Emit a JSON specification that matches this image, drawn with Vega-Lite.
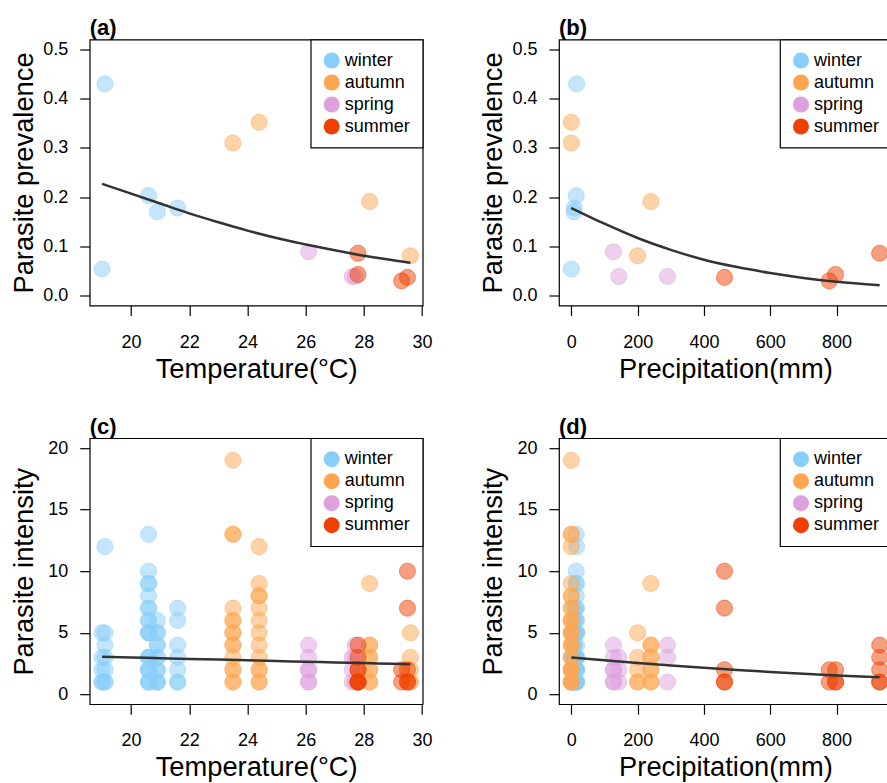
{
  "$schema": "https://vega.github.io/schema/vega-lite/v6.json",
  "background": "white",
  "padding": {"left": 8.7, "top": 15.5, "right": -5, "bottom": 2},
  "bounds": "flush",
  "columns": 2,
  "spacing": {"row": 132.7, "column": 136.3},
  "datasets": {
    "prev": [
      {"season": "winter", "temp": 19.1, "precip": 16, "prev": 0.43},
      {"season": "winter", "temp": 19.0, "precip": 0, "prev": 0.054},
      {"season": "winter", "temp": 20.6, "precip": 15, "prev": 0.203},
      {"season": "winter", "temp": 20.9, "precip": 8, "prev": 0.170},
      {"season": "winter", "temp": 21.6, "precip": 9, "prev": 0.178},
      {"season": "autumn", "temp": 23.5, "precip": 0, "prev": 0.310},
      {"season": "autumn", "temp": 24.4, "precip": 0, "prev": 0.352},
      {"season": "autumn", "temp": 28.2, "precip": 240, "prev": 0.191},
      {"season": "autumn", "temp": 29.6, "precip": 200, "prev": 0.081},
      {"season": "spring", "temp": 26.1, "precip": 127, "prev": 0.089},
      {"season": "spring", "temp": 27.6, "precip": 143, "prev": 0.039},
      {"season": "spring", "temp": 27.7, "precip": 290, "prev": 0.039},
      {"season": "summer", "temp": 27.8, "precip": 930, "prev": 0.086},
      {"season": "summer", "temp": 27.8, "precip": 797, "prev": 0.043},
      {"season": "summer", "temp": 29.3, "precip": 778, "prev": 0.030},
      {"season": "summer", "temp": 29.5, "precip": 462, "prev": 0.037}
    ],
    "intensity": [
      {"season": "winter", "temp": 19.1, "precip": 16, "intensity": 12},
      {"season": "winter", "temp": 19.1, "precip": 16, "intensity": 5},
      {"season": "winter", "temp": 19.1, "precip": 16, "intensity": 4},
      {"season": "winter", "temp": 19.1, "precip": 16, "intensity": 3},
      {"season": "winter", "temp": 19.1, "precip": 16, "intensity": 2},
      {"season": "winter", "temp": 19.1, "precip": 16, "intensity": 1},
      {"season": "winter", "temp": 19.1, "precip": 16, "intensity": 1},
      {"season": "winter", "temp": 19.0, "precip": 0, "intensity": 5},
      {"season": "winter", "temp": 19.0, "precip": 0, "intensity": 3},
      {"season": "winter", "temp": 19.0, "precip": 0, "intensity": 2},
      {"season": "winter", "temp": 19.0, "precip": 0, "intensity": 1},
      {"season": "winter", "temp": 19.0, "precip": 0, "intensity": 1},
      {"season": "winter", "temp": 20.6, "precip": 15, "intensity": 13},
      {"season": "winter", "temp": 20.6, "precip": 15, "intensity": 10},
      {"season": "winter", "temp": 20.6, "precip": 15, "intensity": 9},
      {"season": "winter", "temp": 20.6, "precip": 15, "intensity": 9},
      {"season": "winter", "temp": 20.6, "precip": 15, "intensity": 8},
      {"season": "winter", "temp": 20.6, "precip": 15, "intensity": 7},
      {"season": "winter", "temp": 20.6, "precip": 15, "intensity": 7},
      {"season": "winter", "temp": 20.6, "precip": 15, "intensity": 6},
      {"season": "winter", "temp": 20.6, "precip": 15, "intensity": 6},
      {"season": "winter", "temp": 20.6, "precip": 15, "intensity": 5},
      {"season": "winter", "temp": 20.6, "precip": 15, "intensity": 5},
      {"season": "winter", "temp": 20.6, "precip": 15, "intensity": 5},
      {"season": "winter", "temp": 20.6, "precip": 15, "intensity": 3},
      {"season": "winter", "temp": 20.6, "precip": 15, "intensity": 3},
      {"season": "winter", "temp": 20.6, "precip": 15, "intensity": 3},
      {"season": "winter", "temp": 20.6, "precip": 15, "intensity": 2},
      {"season": "winter", "temp": 20.6, "precip": 15, "intensity": 2},
      {"season": "winter", "temp": 20.6, "precip": 15, "intensity": 2},
      {"season": "winter", "temp": 20.6, "precip": 15, "intensity": 1},
      {"season": "winter", "temp": 20.6, "precip": 15, "intensity": 1},
      {"season": "winter", "temp": 20.6, "precip": 15, "intensity": 1},
      {"season": "winter", "temp": 20.9, "precip": 8, "intensity": 6},
      {"season": "winter", "temp": 20.9, "precip": 8, "intensity": 5},
      {"season": "winter", "temp": 20.9, "precip": 8, "intensity": 5},
      {"season": "winter", "temp": 20.9, "precip": 8, "intensity": 4},
      {"season": "winter", "temp": 20.9, "precip": 8, "intensity": 4},
      {"season": "winter", "temp": 20.9, "precip": 8, "intensity": 3},
      {"season": "winter", "temp": 20.9, "precip": 8, "intensity": 3},
      {"season": "winter", "temp": 20.9, "precip": 8, "intensity": 2},
      {"season": "winter", "temp": 20.9, "precip": 8, "intensity": 2},
      {"season": "winter", "temp": 20.9, "precip": 8, "intensity": 1},
      {"season": "winter", "temp": 20.9, "precip": 8, "intensity": 1},
      {"season": "winter", "temp": 20.9, "precip": 8, "intensity": 1},
      {"season": "winter", "temp": 21.6, "precip": 9, "intensity": 7},
      {"season": "winter", "temp": 21.6, "precip": 9, "intensity": 6},
      {"season": "winter", "temp": 21.6, "precip": 9, "intensity": 4},
      {"season": "winter", "temp": 21.6, "precip": 9, "intensity": 3},
      {"season": "winter", "temp": 21.6, "precip": 9, "intensity": 2},
      {"season": "winter", "temp": 21.6, "precip": 9, "intensity": 1},
      {"season": "winter", "temp": 21.6, "precip": 9, "intensity": 1},
      {"season": "autumn", "temp": 23.5, "precip": 0, "intensity": 19},
      {"season": "autumn", "temp": 23.5, "precip": 0, "intensity": 13},
      {"season": "autumn", "temp": 23.5, "precip": 0, "intensity": 13},
      {"season": "autumn", "temp": 23.5, "precip": 0, "intensity": 7},
      {"season": "autumn", "temp": 23.5, "precip": 0, "intensity": 6},
      {"season": "autumn", "temp": 23.5, "precip": 0, "intensity": 6},
      {"season": "autumn", "temp": 23.5, "precip": 0, "intensity": 5},
      {"season": "autumn", "temp": 23.5, "precip": 0, "intensity": 5},
      {"season": "autumn", "temp": 23.5, "precip": 0, "intensity": 4},
      {"season": "autumn", "temp": 23.5, "precip": 0, "intensity": 4},
      {"season": "autumn", "temp": 23.5, "precip": 0, "intensity": 3},
      {"season": "autumn", "temp": 23.5, "precip": 0, "intensity": 2},
      {"season": "autumn", "temp": 23.5, "precip": 0, "intensity": 2},
      {"season": "autumn", "temp": 23.5, "precip": 0, "intensity": 1},
      {"season": "autumn", "temp": 23.5, "precip": 0, "intensity": 1},
      {"season": "autumn", "temp": 24.4, "precip": 0, "intensity": 12},
      {"season": "autumn", "temp": 24.4, "precip": 0, "intensity": 9},
      {"season": "autumn", "temp": 24.4, "precip": 0, "intensity": 8},
      {"season": "autumn", "temp": 24.4, "precip": 0, "intensity": 8},
      {"season": "autumn", "temp": 24.4, "precip": 0, "intensity": 7},
      {"season": "autumn", "temp": 24.4, "precip": 0, "intensity": 6},
      {"season": "autumn", "temp": 24.4, "precip": 0, "intensity": 5},
      {"season": "autumn", "temp": 24.4, "precip": 0, "intensity": 4},
      {"season": "autumn", "temp": 24.4, "precip": 0, "intensity": 3},
      {"season": "autumn", "temp": 24.4, "precip": 0, "intensity": 2},
      {"season": "autumn", "temp": 24.4, "precip": 0, "intensity": 2},
      {"season": "autumn", "temp": 24.4, "precip": 0, "intensity": 1},
      {"season": "autumn", "temp": 24.4, "precip": 0, "intensity": 1},
      {"season": "autumn", "temp": 28.2, "precip": 240, "intensity": 9},
      {"season": "autumn", "temp": 28.2, "precip": 240, "intensity": 4},
      {"season": "autumn", "temp": 28.2, "precip": 240, "intensity": 4},
      {"season": "autumn", "temp": 28.2, "precip": 240, "intensity": 3},
      {"season": "autumn", "temp": 28.2, "precip": 240, "intensity": 3},
      {"season": "autumn", "temp": 28.2, "precip": 240, "intensity": 2},
      {"season": "autumn", "temp": 28.2, "precip": 240, "intensity": 2},
      {"season": "autumn", "temp": 28.2, "precip": 240, "intensity": 1},
      {"season": "autumn", "temp": 28.2, "precip": 240, "intensity": 1},
      {"season": "autumn", "temp": 29.6, "precip": 200, "intensity": 5},
      {"season": "autumn", "temp": 29.6, "precip": 200, "intensity": 3},
      {"season": "autumn", "temp": 29.6, "precip": 200, "intensity": 2},
      {"season": "autumn", "temp": 29.6, "precip": 200, "intensity": 1},
      {"season": "autumn", "temp": 29.6, "precip": 200, "intensity": 1},
      {"season": "spring", "temp": 26.1, "precip": 127, "intensity": 4},
      {"season": "spring", "temp": 26.1, "precip": 127, "intensity": 3},
      {"season": "spring", "temp": 26.1, "precip": 127, "intensity": 2},
      {"season": "spring", "temp": 26.1, "precip": 127, "intensity": 2},
      {"season": "spring", "temp": 26.1, "precip": 127, "intensity": 1},
      {"season": "spring", "temp": 26.1, "precip": 127, "intensity": 1},
      {"season": "spring", "temp": 27.6, "precip": 143, "intensity": 3},
      {"season": "spring", "temp": 27.6, "precip": 143, "intensity": 2},
      {"season": "spring", "temp": 27.6, "precip": 143, "intensity": 1},
      {"season": "spring", "temp": 27.7, "precip": 290, "intensity": 4},
      {"season": "spring", "temp": 27.7, "precip": 290, "intensity": 3},
      {"season": "spring", "temp": 27.7, "precip": 290, "intensity": 1},
      {"season": "summer", "temp": 27.8, "precip": 930, "intensity": 4},
      {"season": "summer", "temp": 27.8, "precip": 930, "intensity": 3},
      {"season": "summer", "temp": 27.8, "precip": 930, "intensity": 2},
      {"season": "summer", "temp": 27.8, "precip": 930, "intensity": 1},
      {"season": "summer", "temp": 27.8, "precip": 930, "intensity": 1},
      {"season": "summer", "temp": 27.8, "precip": 797, "intensity": 2},
      {"season": "summer", "temp": 27.8, "precip": 797, "intensity": 1},
      {"season": "summer", "temp": 27.8, "precip": 797, "intensity": 1},
      {"season": "summer", "temp": 29.3, "precip": 778, "intensity": 2},
      {"season": "summer", "temp": 29.3, "precip": 778, "intensity": 1},
      {"season": "summer", "temp": 29.5, "precip": 462, "intensity": 10},
      {"season": "summer", "temp": 29.5, "precip": 462, "intensity": 7},
      {"season": "summer", "temp": 29.5, "precip": 462, "intensity": 2},
      {"season": "summer", "temp": 29.5, "precip": 462, "intensity": 1},
      {"season": "summer", "temp": 29.5, "precip": 462, "intensity": 1}
    ],
    "fitTemp": [
      {"temp": 19.0, "prev": 0.227, "intensity": 3.05},
      {"temp": 20.0, "prev": 0.207, "intensity": 2.99},
      {"temp": 21.0, "prev": 0.187, "intensity": 2.94},
      {"temp": 22.0, "prev": 0.167, "intensity": 2.88},
      {"temp": 23.0, "prev": 0.149, "intensity": 2.82},
      {"temp": 24.0, "prev": 0.132, "intensity": 2.76},
      {"temp": 25.0, "prev": 0.117, "intensity": 2.70},
      {"temp": 26.0, "prev": 0.104, "intensity": 2.65},
      {"temp": 27.0, "prev": 0.092, "intensity": 2.59},
      {"temp": 28.0, "prev": 0.081, "intensity": 2.54},
      {"temp": 29.0, "prev": 0.072, "intensity": 2.48},
      {"temp": 29.6, "prev": 0.067, "intensity": 2.45}
    ],
    "fitPrecip": [
      {"precip": 0, "prev": 0.178, "intensity": 3.0},
      {"precip": 100, "prev": 0.146, "intensity": 2.76},
      {"precip": 200, "prev": 0.117, "intensity": 2.54},
      {"precip": 300, "prev": 0.093, "intensity": 2.34},
      {"precip": 400, "prev": 0.073, "intensity": 2.15},
      {"precip": 500, "prev": 0.058, "intensity": 1.98},
      {"precip": 600, "prev": 0.046, "intensity": 1.82},
      {"precip": 700, "prev": 0.036, "intensity": 1.67},
      {"precip": 800, "prev": 0.028, "intensity": 1.53},
      {"precip": 930, "prev": 0.021, "intensity": 1.38}
    ]
  },
  "concat": [
    {
      "width": 333, "height": 266,
      "title": {"text": "(a)"},
      "layer": [
        {
          "data": {"name": "prev"},
          "mark": {"type": "circle", "size": 260, "fillOpacity": 0.5, "strokeOpacity": 0.5, "strokeWidth": 1},
          "encoding": {
            "x": {"field": "temp", "type": "quantitative", "title": "Temperature(°C)", "scale": {"domain": [18.576, 30.024], "nice": false, "zero": false}, "axis": {"values": [20, 22, 24, 26, 28, 30]}},
            "y": {"field": "prev", "type": "quantitative", "title": "Parasite prevalence", "scale": {"domain": [-0.02, 0.52], "nice": false, "zero": false}, "axis": {"values": [0, 0.1, 0.2, 0.3, 0.4, 0.5], "format": ".1f"}},
            "color": {"field": "season", "type": "nominal", "scale": {"domain": ["winter", "autumn", "spring", "summer"], "range": ["#87CEFA", "#FFA54F", "#DDA0DD", "#EE4000"]}, "legend": {"title": null, "orient": "top-right", "offset": 0}},
            "stroke": {"field": "season", "type": "nominal", "scale": {"domain": ["winter", "autumn", "spring", "summer"], "range": ["#87CEFA", "#FFA54F", "#DDA0DD", "#EE4000"]}, "legend": null}
          }
        },
        {
          "data": {"name": "fitTemp"},
          "mark": {"type": "line", "color": "#333333", "strokeWidth": 2.5, "interpolate": "monotone"},
          "encoding": {
            "x": {"field": "temp", "type": "quantitative", "title": "Temperature(°C)"},
            "y": {"field": "prev", "type": "quantitative", "title": "Parasite prevalence"}
          }
        }
      ]
    },
    {
      "width": 333, "height": 266,
      "title": {"text": "(b)"},
      "layer": [
        {
          "data": {"name": "prev"},
          "mark": {"type": "circle", "size": 260, "fillOpacity": 0.5, "strokeOpacity": 0.5, "strokeWidth": 1},
          "encoding": {
            "x": {"field": "precip", "type": "quantitative", "title": "Precipitation(mm)", "scale": {"domain": [-37.2, 967.2], "nice": false, "zero": false}, "axis": {"values": [0, 200, 400, 600, 800]}},
            "y": {"field": "prev", "type": "quantitative", "title": "Parasite prevalence", "scale": {"domain": [-0.02, 0.52], "nice": false, "zero": false}, "axis": {"values": [0, 0.1, 0.2, 0.3, 0.4, 0.5], "format": ".1f"}},
            "color": {"field": "season", "type": "nominal", "scale": {"domain": ["winter", "autumn", "spring", "summer"], "range": ["#87CEFA", "#FFA54F", "#DDA0DD", "#EE4000"]}, "legend": {"title": null, "orient": "top-right", "offset": 0}},
            "stroke": {"field": "season", "type": "nominal", "scale": {"domain": ["winter", "autumn", "spring", "summer"], "range": ["#87CEFA", "#FFA54F", "#DDA0DD", "#EE4000"]}, "legend": null}
          }
        },
        {
          "data": {"name": "fitPrecip"},
          "mark": {"type": "line", "color": "#333333", "strokeWidth": 2.5, "interpolate": "monotone"},
          "encoding": {
            "x": {"field": "precip", "type": "quantitative", "title": "Precipitation(mm)"},
            "y": {"field": "prev", "type": "quantitative", "title": "Parasite prevalence"}
          }
        }
      ]
    },
    {
      "width": 333, "height": 266,
      "title": {"text": "(c)"},
      "layer": [
        {
          "data": {"name": "intensity"},
          "mark": {"type": "circle", "size": 260, "fillOpacity": 0.5, "strokeOpacity": 0.5, "strokeWidth": 1},
          "encoding": {
            "x": {"field": "temp", "type": "quantitative", "title": "Temperature(°C)", "scale": {"domain": [18.576, 30.024], "nice": false, "zero": false}, "axis": {"values": [20, 22, 24, 26, 28, 30]}},
            "y": {"field": "intensity", "type": "quantitative", "title": "Parasite intensity", "scale": {"domain": [-0.8, 20.8], "nice": false, "zero": false}, "axis": {"values": [0, 5, 10, 15, 20]}},
            "color": {"field": "season", "type": "nominal", "scale": {"domain": ["winter", "autumn", "spring", "summer"], "range": ["#87CEFA", "#FFA54F", "#DDA0DD", "#EE4000"]}, "legend": {"title": null, "orient": "top-right", "offset": 0}},
            "stroke": {"field": "season", "type": "nominal", "scale": {"domain": ["winter", "autumn", "spring", "summer"], "range": ["#87CEFA", "#FFA54F", "#DDA0DD", "#EE4000"]}, "legend": null}
          }
        },
        {
          "data": {"name": "fitTemp"},
          "mark": {"type": "line", "color": "#333333", "strokeWidth": 2.5, "interpolate": "monotone"},
          "encoding": {
            "x": {"field": "temp", "type": "quantitative", "title": "Temperature(°C)"},
            "y": {"field": "intensity", "type": "quantitative", "title": "Parasite intensity"}
          }
        }
      ]
    },
    {
      "width": 333, "height": 266,
      "title": {"text": "(d)"},
      "layer": [
        {
          "data": {"name": "intensity"},
          "mark": {"type": "circle", "size": 260, "fillOpacity": 0.5, "strokeOpacity": 0.5, "strokeWidth": 1},
          "encoding": {
            "x": {"field": "precip", "type": "quantitative", "title": "Precipitation(mm)", "scale": {"domain": [-37.2, 967.2], "nice": false, "zero": false}, "axis": {"values": [0, 200, 400, 600, 800]}},
            "y": {"field": "intensity", "type": "quantitative", "title": "Parasite intensity", "scale": {"domain": [-0.8, 20.8], "nice": false, "zero": false}, "axis": {"values": [0, 5, 10, 15, 20]}},
            "color": {"field": "season", "type": "nominal", "scale": {"domain": ["winter", "autumn", "spring", "summer"], "range": ["#87CEFA", "#FFA54F", "#DDA0DD", "#EE4000"]}, "legend": {"title": null, "orient": "top-right", "offset": 0}},
            "stroke": {"field": "season", "type": "nominal", "scale": {"domain": ["winter", "autumn", "spring", "summer"], "range": ["#87CEFA", "#FFA54F", "#DDA0DD", "#EE4000"]}, "legend": null}
          }
        },
        {
          "data": {"name": "fitPrecip"},
          "mark": {"type": "line", "color": "#333333", "strokeWidth": 2.5, "interpolate": "monotone"},
          "encoding": {
            "x": {"field": "precip", "type": "quantitative", "title": "Precipitation(mm)"},
            "y": {"field": "intensity", "type": "quantitative", "title": "Parasite intensity"}
          }
        }
      ]
    }
  ],
  "resolve": {
    "scale": {"x": "independent", "y": "independent", "color": "independent", "stroke": "independent"},
    "axis": {"x": "independent", "y": "independent"},
    "legend": {"color": "independent", "stroke": "independent"}
  },
  "config": {
    "font": "Liberation Sans",
    "view": {"stroke": "black", "strokeWidth": 1.2},
    "title": {"anchor": "start", "frame": "group", "fontSize": 22, "fontWeight": "bold", "color": "black", "offset": -1, "baseline": "alphabetic"},
    "axis": {
      "grid": false, "domain": false, "tickColor": "black", "tickSize": 10, "tickWidth": 1.2,
      "labelColor": "black", "labelFontSize": 18, "labelOverlap": false, "labelFlush": false,
      "titleColor": "black", "titleFontSize": 27.3, "titleFontWeight": "normal"
    },
    "axisX": {"labelPadding": 31.5, "labelBaseline": "alphabetic", "titleY": 71.5, "titleBaseline": "alphabetic"},
    "axisY": {"labelPadding": 12, "labelBaseline": "middle", "titleX": -57.5, "titleY": 133, "titleBaseline": "alphabetic", "titleAlign": "center", "titleAngle": -90},
    "legend": {
      "strokeColor": "black", "strokeWidth": 1.2, "fillColor": "white", "padding": 12, "rowPadding": 4,
      "labelOffset": 4, "labelFontSize": 18, "labelColor": "black", "symbolType": "circle", "symbolSize": 256,
      "symbolStrokeWidth": 0, "symbolOpacity": 1
    }
  }
}
